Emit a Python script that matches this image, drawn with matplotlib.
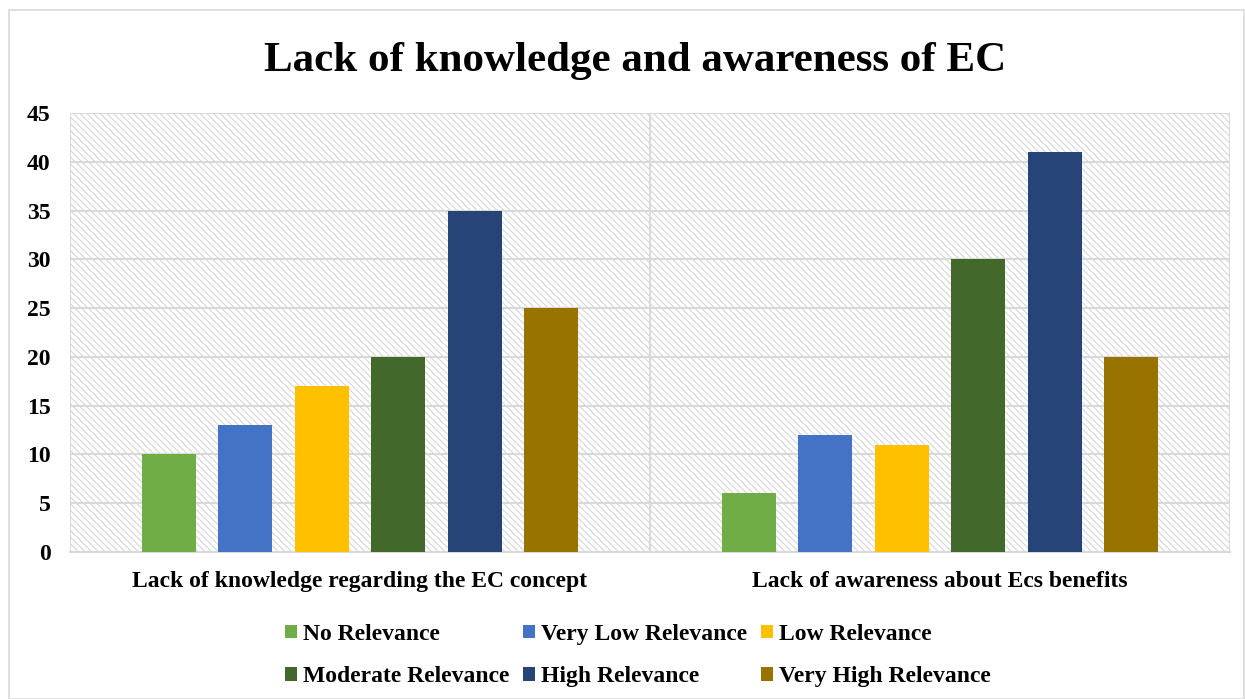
import matplotlib.pyplot as plt
import matplotlib.patches as mpatches
import numpy as np

plt.rcParams['font.family'] = ['Liberation Serif', 'DejaVu Serif']
plt.rcParams['font.weight'] = 'bold'
plt.rcParams['hatch.linewidth'] = 0.8

# =====================================================================================
# Data
# =====================================================================================

categories = ["Lack of knowledge regarding the EC concept",
              "Lack of awareness about Ecs benefits"]
series_names = ["No Relevance", "Very Low Relevance", "Low Relevance",
                "Moderate Relevance", "High Relevance", "Very High Relevance"]
series_colours = ["#70AD47", "#4472C4", "#FFC000", "#43682B", "#264478", "#997300"]
no_relevance = [10, 6]
very_low = [13, 12]
low = [17, 11]
moderate = [20, 30]
high = [35, 41]
very_high = [25, 20]
values = [no_relevance, very_low, low, moderate, high, very_high]

# =====================================================================================
# Plotting
# =====================================================================================

fig = plt.figure(figsize=(12.45, 6.99), dpi=100)
ax = fig.add_axes([0.0562, 0.2103, 0.9318, 0.6277])

# outer frame
fig.add_artist(mpatches.Rectangle((0.007, 0.0), 0.992, 0.985, transform=fig.transFigure,
                                  fill=False, edgecolor="#D9D9D9", lw=1.2))

# hatched plot area
ax.add_patch(mpatches.Rectangle((0, 0), 1, 1, transform=ax.transAxes, facecolor="white",
                                edgecolor="#D6D6D6", hatch="\\\\\\\\\\", lw=0, zorder=0))

x = np.arange(len(categories))
width = 0.093
pitch = 0.132
offsets = (np.arange(len(series_names)) - 2.5) * pitch
bars = []
for vals, name, col, off in zip(values, series_names, series_colours, offsets):
    bars.append(ax.bar(x + off, vals, width, color=col, label=name, zorder=3))

ax.set_xlim(-0.5, 1.5)
ax.set_ylim(0, 45)
ax.set_yticks(range(0, 46, 5))
for y in range(5, 46, 5):
    ax.axhline(y, color="#D9D9D9", lw=1.5, zorder=1)
for xv in [-0.5, 0.5, 1.5]:
    ax.axvline(xv, color="#D9D9D9", lw=1.5, zorder=1)

for s in ["top", "right", "left"]:
    ax.spines[s].set_visible(False)
ax.spines["bottom"].set_color("#D9D9D9")
ax.spines["bottom"].set_linewidth(1.5)

ax.set_xticks(x)
ax.set_xticklabels(categories, fontsize=17, fontweight="bold")
ax.tick_params(axis="both", length=0, labelsize=17)
ax.tick_params(axis="y", pad=14)
ax.tick_params(axis="x", pad=14)
for lbl in ax.get_yticklabels():
    lbl.set_fontweight("bold")

fig.text(0.51, 0.913, "Lack of knowledge and awareness of EC", ha="center", va="center",
         fontsize=31, fontweight="bold")

# row-major legend order
order = [0, 3, 1, 4, 2, 5]
fig.legend([bars[i] for i in order], [series_names[i] for i in order],
           loc="center", bbox_to_anchor=(0.5125, 0.062), bbox_transform=fig.transFigure,
           ncol=3, frameon=False, handlelength=0.5, handleheight=0.5,
           handletextpad=0.25, columnspacing=0.6, labelspacing=0.9,
           prop={"weight": "bold", "size": 17})

fig.savefig("out.png", dpi=100)
